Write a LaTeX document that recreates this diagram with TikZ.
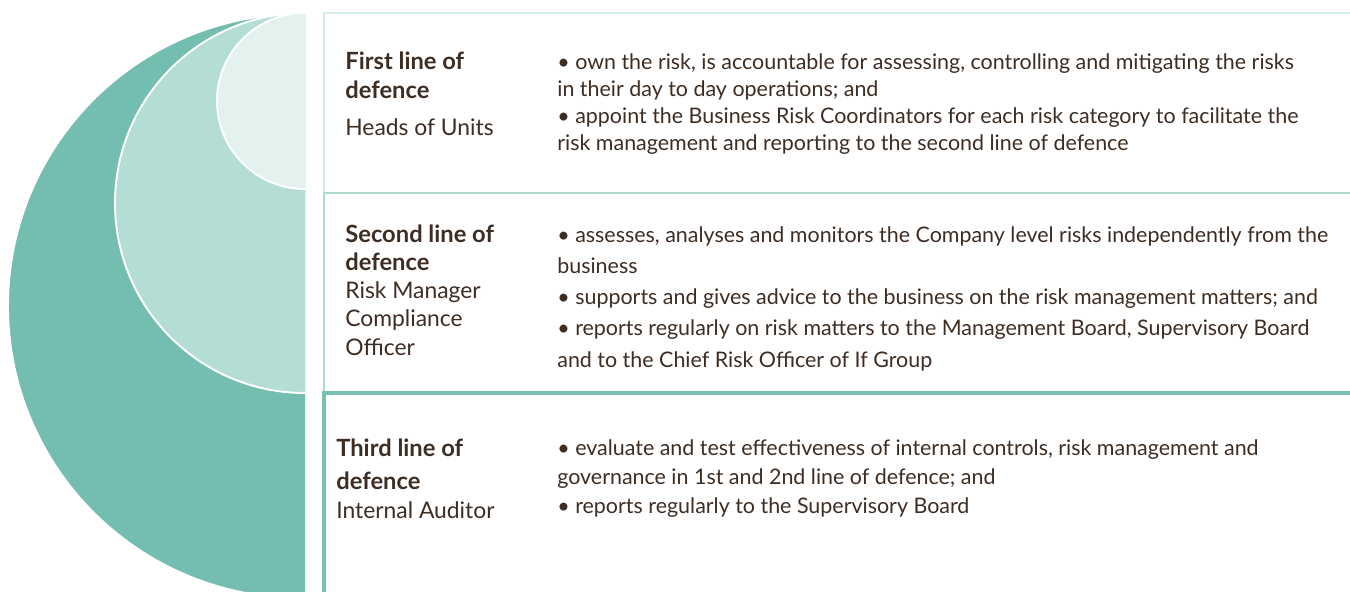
\documentclass[tikz,border=0pt]{standalone}
\usepackage{fontspec}
\setmainfont{Lato}
\usepackage{xcolor}
\usepackage{tikz}
\definecolor{deepteal}{HTML}{74BDB1}
\definecolor{midteal}{HTML}{B4DED5}
\definecolor{paleteal}{HTML}{E3F2EF}
\definecolor{rimpale}{HTML}{D6ECE8}
\definecolor{rimmid}{HTML}{AEDAD1}
\definecolor{rimdeep}{HTML}{7CC0B5}
\definecolor{inkbrown}{HTML}{3E2D23}

\newcommand{\headbf}[1]{{\fontsize{13.5}{16}\selectfont\bfseries #1}}

\tikzset{
  linetext/.style={anchor=base west,align=left,inner sep=0pt,text=inkbrown},
  headtext/.style={linetext,font=\fontsize{13}{16}\selectfont},
  bodytext/.style={linetext,font=\fontsize{12.2}{#1}\selectfont},
  disc/.style={draw=white,line width=1.1pt}
}

\begin{document}
\begin{tikzpicture}[x=0.02cm,y=-0.02cm]
  \useasboundingbox (0,0) rectangle (1350,592);

  % the three nested discs, cut at the panel edge
  \begin{scope}
    \clip (0,0) rectangle (305,592);
    \fill[deepteal,disc] (300,306) circle[radius=292];
    \fill[midteal,disc] (305,203) circle[radius=190];
    \fill[paleteal,disc] (305,101) circle[radius=88];
  \end{scope}

  % panels
  \draw[rimpale,line width=1.1pt] (1350,13) -- (324,13) -- (324,193);
  \draw[rimmid,line width=1.4pt] (1350,193) -- (324,193) -- (324,393);
  \draw[rimdeep,line width=1.8pt] (1350,393) -- (324,393) -- (324,592);

  % first line (nodes sit on the baseline of their last line)
  \node[headtext] (head1) at (345,135)
    {\headbf{First line of}\\\headbf{defence}\\[5pt]Heads of Units};
  \node[bodytext=15.3pt] (body1) at (557,150)
    {• own the risk, is accountable for assessing, controlling and mitigating the risks\\
     in their day to day operations; and\\
     • appoint the Business Risk Coordinators for each risk category to facilitate the\\
     risk management and reporting to the second line of defence};

  % second line
  \node[headtext] (head2) at (345,355)
    {\headbf{Second line of}\\\headbf{defence}\\Risk Manager\\Compliance\\Officer};
  \node[bodytext=17.7pt] (body2) at (557,367)
    {• assesses, analyses and monitors the Company level risks independently from the\\
     business\\
     • supports and gives advice to the business on the risk management matters; and\\
     • reports regularly on risk matters to the Management Board, Supervisory Board\\
     and to the Chief Risk Officer of If Group};

  % third line
  \node[headtext] (head3) at (336,518)
    {\headbf{Third line of}\\[3pt]\headbf{defence}\\Internal Auditor};
  \node[bodytext=16.4pt] (body3) at (557,513)
    {• evaluate and test effectiveness of internal controls, risk management and\\
     governance in 1st and 2nd line of defence; and\\
     • reports regularly to the Supervisory Board};
\end{tikzpicture}
\end{document}
